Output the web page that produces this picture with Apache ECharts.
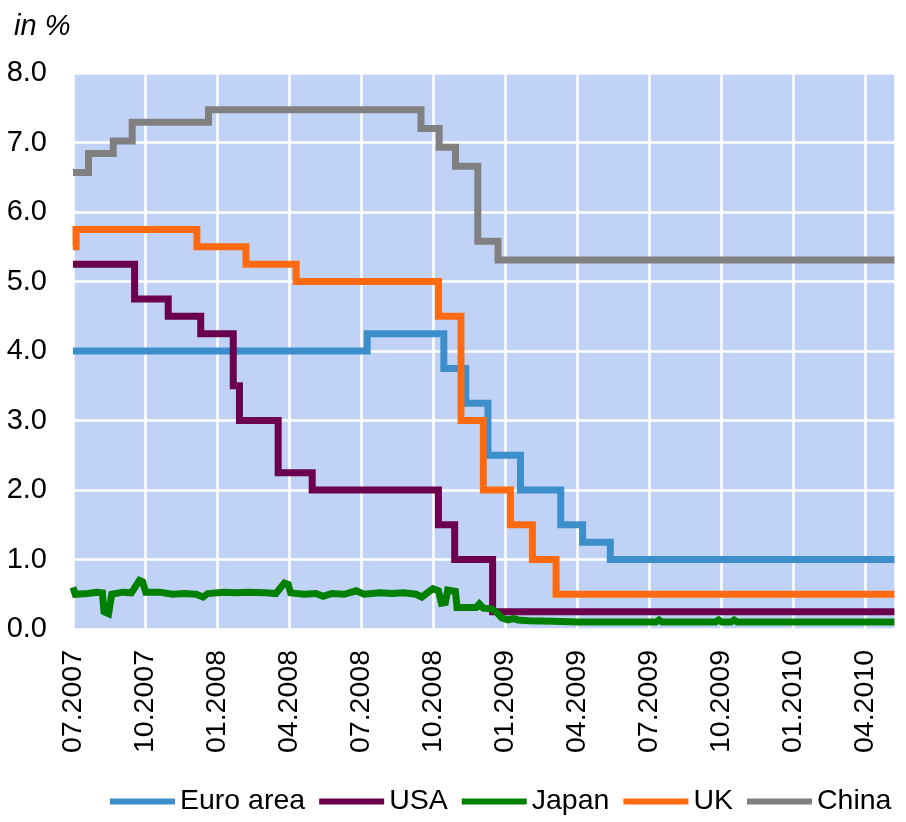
<!DOCTYPE html>
<html><head><meta charset="utf-8">
<script src="https://cdn.jsdelivr.net/npm/echarts@6/dist/echarts.min.js"></script>
<style>html,body{margin:0;padding:0;background:#fff}#c{width:906px;height:822px}</style>
</head><body><div id="c"></div>
<script>
// ---- data (policy rates, in %) : [date of change, new value] ----
const seriesNames = ['Euro area', 'USA', 'Japan', 'UK', 'China'];
const xTickLabels = ['07.2007','10.2007','01.2008','04.2008','07.2008','10.2008','01.2009','04.2009','07.2009','10.2009','01.2010','04.2010'];
const endDate = '2010-05-08';

const euroArea = [['2007-07-01',4.00],['2008-07-09',4.25],['2008-10-15',3.75],['2008-11-12',3.25],['2008-12-10',2.50],['2009-01-21',2.00],['2009-03-11',1.50],['2009-04-08',1.25],['2009-05-13',1.00]];
const usa = [['2007-07-01',5.25],['2007-09-18',4.75],['2007-10-31',4.50],['2007-12-11',4.25],['2008-01-22',3.50],['2008-01-30',3.00],['2008-03-18',2.25],['2008-04-30',2.00],['2008-10-08',1.50],['2008-10-29',1.00],['2008-12-16',0.25]];
const uk = [['2007-07-01',5.50],['2007-07-05',5.75],['2007-12-06',5.50],['2008-02-07',5.25],['2008-04-10',5.00],['2008-10-08',4.50],['2008-11-06',3.00],['2008-12-04',2.00],['2009-01-08',1.50],['2009-02-05',1.00],['2009-03-05',0.50]];
const china = [['2007-07-01',6.57],['2007-07-21',6.84],['2007-08-22',7.02],['2007-09-15',7.29],['2007-12-21',7.47],['2008-09-16',7.20],['2008-10-09',6.93],['2008-10-30',6.66],['2008-11-27',5.58],['2008-12-23',5.31]];
const japan = [['2007-07-01',0.60],['2007-07-04',0.50],['2007-07-20',0.51],['2007-08-01',0.53],['2007-08-08',0.52],['2007-08-10',0.25],['2007-08-16',0.22],['2007-08-20',0.50],['2007-09-03',0.53],['2007-09-14',0.52],['2007-09-24',0.70],['2007-09-28',0.68],['2007-10-02',0.53],['2007-10-20',0.53],['2007-11-05',0.50],['2007-11-20',0.51],['2007-12-05',0.50],['2007-12-14',0.46],['2007-12-20',0.51],['2008-01-10',0.53],['2008-01-25',0.52],['2008-02-10',0.53],['2008-03-01',0.52],['2008-03-15',0.51],['2008-03-26',0.66],['2008-03-31',0.64],['2008-04-03',0.52],['2008-04-20',0.50],['2008-05-05',0.51],['2008-05-14',0.47],['2008-05-25',0.51],['2008-06-10',0.50],['2008-06-25',0.55],['2008-07-05',0.50],['2008-07-25',0.52],['2008-08-10',0.51],['2008-08-25',0.52],['2008-09-10',0.50],['2008-09-17',0.46],['2008-09-25',0.53],['2008-10-01',0.58],['2008-10-08',0.55],['2008-10-12',0.37],['2008-10-17',0.38],['2008-10-20',0.56],['2008-10-30',0.54],['2008-11-01',0.31],['2008-11-25',0.31],['2008-11-29',0.36],['2008-12-04',0.30],['2008-12-15',0.29],['2008-12-22',0.23],['2008-12-28',0.16],['2009-01-05',0.13],['2009-01-12',0.15],['2009-01-18',0.13],['2009-02-01',0.12],['2009-03-01',0.11],['2009-04-01',0.10],['2009-07-10',0.10],['2009-07-14',0.13],['2009-07-18',0.10],['2009-09-24',0.10],['2009-09-28',0.13],['2009-10-02',0.10],['2009-10-14',0.10],['2009-10-18',0.13],['2009-10-22',0.10],['2010-05-08',0.10]];

const colors = ['#3D8FCC', '#6A004E', '#008000', '#FF6A10', '#808080'];

// date -> months since 1 July 2007
function toMonths(s) {
  const [y, m, d] = s.split('-').map(Number);
  const dim = new Date(y, m, 0).getDate();
  return (y - 2007) * 12 + (m - 7) + (d - 1) / dim;
}
function stepData(arr) {
  const out = arr.map(p => [toMonths(p[0]), p[1]]);
  out.push([toMonths(endDate), arr[arr.length - 1][1]]);
  return out;
}
const FONT = '"Liberation Sans", Arial, sans-serif';
const chart = echarts.init(document.getElementById('c'));
function lineSeries(name, data, color, step) {
  return {
    name, type: 'line', data, step: step ? 'end' : false, symbol: 'none',
    lineStyle: { color, width: 7, join: 'miter', cap: 'butt' }, itemStyle: { color },
    animation: false
  };
}
chart.setOption({
  animation: false,
  textStyle: { fontFamily: FONT },
  graphic: [{ type: 'text', left: 14, top: 12, style: { text: 'in %', font: 'italic 29px ' + FONT, fill: '#000' } }],
  grid: { left: 73, right: 11, top: 73, bottom: 193, show: true, backgroundColor: '#C0D3F7', borderWidth: 0 },
  xAxis: {
    type: 'value', min: 0, max: 34.25, interval: 3,
    axisLine: { show: false }, axisTick: { show: false },
    splitLine: { show: true, lineStyle: { color: '#ffffff', width: 2.5 } },
    axisLabel: {
      rotate: 90, margin: 21, fontSize: 28.5, color: '#000', fontFamily: FONT, showMaxLabel: false,
      padding: [0, 0, 10, 0],
      formatter: v => { const k = Math.round(v / 3); return Math.abs(v - k * 3) < 1e-6 ? (xTickLabels[k] || '') : ''; }
    }
  },
  yAxis: {
    type: 'value', min: 0, max: 8, interval: 1,
    axisLine: { show: false }, axisTick: { show: false },
    splitLine: { show: true, lineStyle: { color: '#ffffff', width: 2.5 } },
    axisLabel: { margin: 26, fontSize: 29, color: '#000', fontFamily: FONT, formatter: v => v.toFixed(1) }
  },
  legend: {
    data: seriesNames, left: 105, top: 782, icon: 'rect', itemWidth: 65, itemHeight: 6, itemGap: 14,
    textStyle: { fontSize: 28.5, color: '#000', fontFamily: FONT }
  },
  series: [
    lineSeries(seriesNames[0], stepData(euroArea), colors[0], true),
    lineSeries(seriesNames[1], stepData(usa), colors[1], true),
    lineSeries(seriesNames[2], japan.map(p => [toMonths(p[0]), p[1]]), colors[2], false),
    lineSeries(seriesNames[3], stepData(uk), colors[3], true),
    lineSeries(seriesNames[4], stepData(china), colors[4], true)
  ]
});
</script></body></html>
